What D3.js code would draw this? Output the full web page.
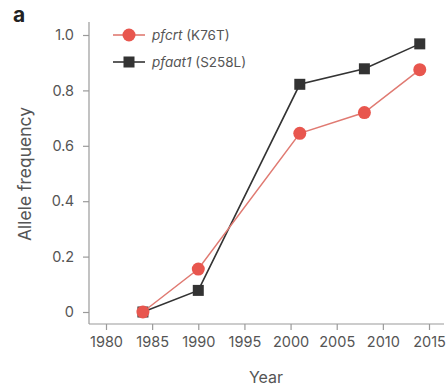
<!DOCTYPE html>
<html><head><meta charset="utf-8">
<script src="https://cdn.jsdelivr.net/npm/d3@7"></script>
<style>
html,body{margin:0;padding:0;background:#fff;}
svg{display:block;font-family:Inter, "Open Sans", sans-serif;}
</style></head>
<body>
<svg id="c" width="446" height="390"></svg>
<script>
const years = [1984, 1990, 2001, 2008, 2014];
const pfcrt = [0, 0.155, 0.645, 0.72, 0.875];
const pfaat1 = [0, 0.078, 0.822, 0.878, 0.968];
const xTicks = [1980, 1985, 1990, 1995, 2000, 2005, 2010, 2015];
const yTicks = [0, 0.2, 0.4, 0.6, 0.8, 1.0];
const yTickLabels = ["0", "0.2", "0.4", "0.6", "0.8", "1.0"];
const seriesNames = ["pfcrt", "pfaat1"];
const seriesSuffix = [" (K76T)", " (S258L)"];

const svg = d3.select("#c");
const x = d3.scaleLinear().domain([1980, 2015]).range([106, 429]);
const y = d3.scaleLinear().domain([0, 1]).range([312, 35]);
const axisCol = "#9a9a9a", txtCol = "#555";
const red = "#e8564e", redLine = "#e07a72", dark = "#333";

// y axis
const ya = svg.append("g").attr("transform", "translate(89,0)")
  .call(d3.axisLeft(y).tickValues(yTicks).tickSize(6).tickPadding(9)
    .tickFormat((d, i) => yTickLabels[i]));
ya.select(".domain").remove();
ya.append("line").attr("x1", 0).attr("x2", 0).attr("y1", 22).attr("y2", 324);
// x axis
const xa = svg.append("g").attr("transform", "translate(0,324)")
  .call(d3.axisBottom(x).tickValues(xTicks).tickSize(6).tickPadding(7).tickFormat(d3.format("d")));
xa.select(".domain").remove();
xa.append("line").attr("x1", 89).attr("x2", 444).attr("y1", 0).attr("y2", 0);
[ya, xa].forEach(g => {
  g.selectAll("line").attr("stroke", axisCol).attr("stroke-width", 1.2);
  g.selectAll("text").attr("fill", txtCol).style("font-size", "14.5px").style("font-family", "Inter, sans-serif");
});

// labels
svg.append("text").attr("x", 266).attr("y", 383).attr("text-anchor", "middle")
  .attr("fill", txtCol).style("font-size", "16px").text("Year");
svg.append("text").attr("transform", "translate(31,174) rotate(-90)").attr("text-anchor", "middle")
  .attr("fill", txtCol).style("font-size", "17.5px").text("Allele frequency");
svg.append("text").attr("x", 13).attr("y", 22).attr("fill", "#222")
  .style("font-size", "21px").style("font-weight", "bold").text("a");

const line = d3.line().x((d, i) => x(years[i])).y(d => y(d));
// pfaat1
svg.append("path").datum(pfaat1).attr("d", line).attr("fill", "none").attr("stroke", dark).attr("stroke-width", 1.6);
svg.selectAll(".sq").data(pfaat1).enter().append("rect")
  .attr("x", (d, i) => x(years[i]) - 5.5).attr("y", d => y(d) - 5.5)
  .attr("width", 11).attr("height", 11).attr("fill", dark);
// pfcrt
svg.append("path").datum(pfcrt).attr("d", line).attr("fill", "none").attr("stroke", redLine).attr("stroke-width", 1.5);
svg.selectAll(".ci").data(pfcrt).enter().append("circle")
  .attr("cx", (d, i) => x(years[i])).attr("cy", d => y(d)).attr("r", 6.5).attr("fill", red);

// legend
const lg = svg.append("g");
const lgY = [35, 62];
[0, 1].forEach(i => {
  lg.append("line").attr("x1", 113).attr("x2", 145).attr("y1", lgY[i]).attr("y2", lgY[i])
    .attr("stroke", i === 0 ? redLine : dark).attr("stroke-width", 1.6);
  if (i === 0) lg.append("circle").attr("cx", 129).attr("cy", lgY[i]).attr("r", 6.5).attr("fill", red);
  else lg.append("rect").attr("x", 123.5).attr("y", lgY[i] - 5.5).attr("width", 11).attr("height", 11).attr("fill", dark);
  const t = lg.append("text").attr("x", 152).attr("y", lgY[i] + 5).attr("fill", txtCol).style("font-size", "13.5px");
  t.append("tspan").style("font-style", "italic").text(seriesNames[i]);
  t.append("tspan").text(seriesSuffix[i]);
});
</script>
</body></html>
